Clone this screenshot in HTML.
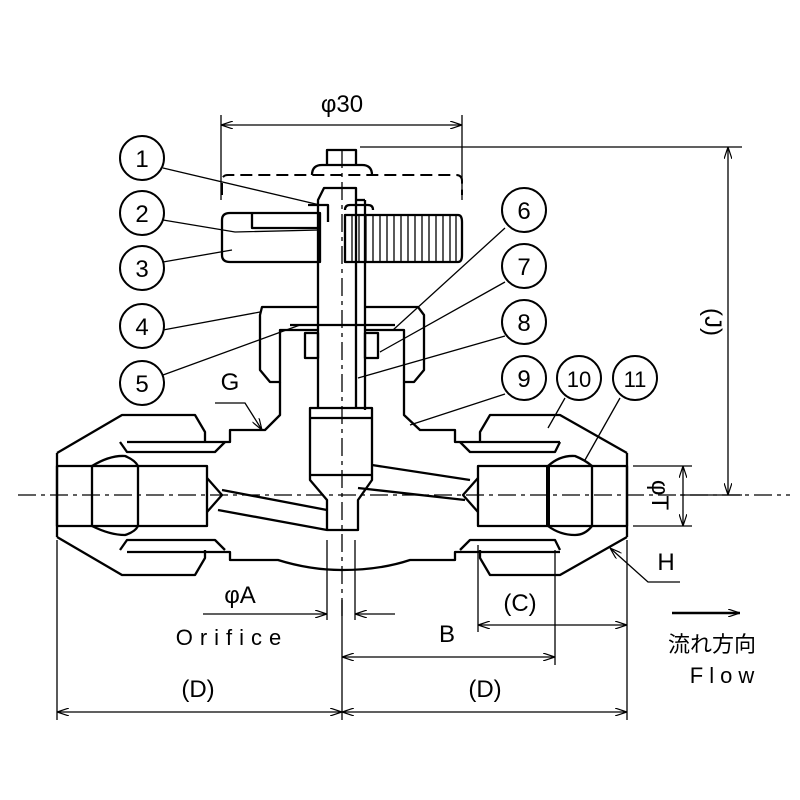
<!DOCTYPE html>
<html><head><meta charset="utf-8"><style>html,body{margin:0;padding:0;background:#fff}svg{display:block}</style></head>
<body>
<svg width="800" height="800" viewBox="0 0 800 800" xmlns="http://www.w3.org/2000/svg" font-family="Liberation Sans, Noto Sans CJK JP, sans-serif">
<defs>
<marker id="a" viewBox="0 0 12 8" refX="12" refY="4" markerWidth="12" markerHeight="8" orient="auto-start-reverse" markerUnits="userSpaceOnUse"><path d="M0,0 L12,4 L0,8" fill="none" stroke="#000" stroke-width="1.2"/></marker>
</defs>
<g fill="none" stroke="#000" stroke-width="1.3">
<!-- center lines -->
<line x1="18" y1="495" x2="790" y2="495" stroke-dasharray="18,5,4,5"/>
<line x1="342" y1="150" x2="342" y2="620" stroke-dasharray="18,5,4,5"/>
<!-- phi30 dim -->
<line x1="221" y1="115" x2="221" y2="200"/><line x1="462" y1="115" x2="462" y2="200"/>
<line x1="221" y1="125" x2="462" y2="125" marker-start="url(#a)" marker-end="url(#a)"/>
<!-- dashed handle -->
<path d="M222,195 V181 Q222,175 228,175 H456 Q462,175 462,181 V195" stroke-dasharray="12,6" stroke-width="2"/>
<!-- J dim -->
<line x1="360" y1="147" x2="742" y2="147"/><line x1="680" y1="495" x2="742" y2="495"/>
<line x1="728" y1="147" x2="728" y2="495" marker-start="url(#a)" marker-end="url(#a)"/>
<!-- phiT dim -->
<line x1="633" y1="466" x2="692" y2="466"/><line x1="633" y1="526" x2="692" y2="526"/>
<line x1="683" y1="466" x2="683" y2="526" marker-start="url(#a)" marker-end="url(#a)"/>
<!-- lower dims -->
<line x1="57" y1="540" x2="57" y2="720"/><line x1="627" y1="540" x2="627" y2="720"/>
<line x1="342" y1="600" x2="342" y2="720"/>
<line x1="327" y1="540" x2="327" y2="620"/><line x1="355" y1="540" x2="355" y2="620"/>
<line x1="478" y1="545" x2="478" y2="632"/><line x1="555" y1="550" x2="555" y2="665"/>
<line x1="57" y1="712" x2="342" y2="712" marker-start="url(#a)" marker-end="url(#a)"/>
<line x1="342" y1="712" x2="627" y2="712" marker-start="url(#a)" marker-end="url(#a)"/>
<line x1="342" y1="657" x2="555" y2="657" marker-start="url(#a)" marker-end="url(#a)"/>
<line x1="478" y1="625" x2="627" y2="625" marker-start="url(#a)" marker-end="url(#a)"/>
<line x1="203" y1="614" x2="327" y2="614" marker-end="url(#a)"/>
<line x1="395" y1="614" x2="355" y2="614" marker-end="url(#a)"/>
<line x1="672" y1="613" x2="740" y2="613" stroke-width="2.5" marker-end="url(#a)"/>
<!-- leaders -->
<path d="M163,168 L320,205"/><path d="M163,220 L235,232 L320,230"/><path d="M163,262 L232,250"/><path d="M163,330 L260,312"/><path d="M163,375 L300,325"/>
<path d="M505,228 L393,330"/><path d="M505,282 L380,352"/><path d="M505,336 L358,378"/><path d="M505,394 L410,425"/>
<path d="M565,398 L548,428"/><path d="M620,398 L585,460"/>
<path d="M215,403 H245 L262,430" marker-end="url(#a)"/>
<path d="M680,582 H648 L610,548" marker-end="url(#a)"/>
</g>
<g fill="none" stroke="#000" stroke-width="2.3" stroke-linejoin="round">
<!-- top nut -->
<path d="M327,165 V150 H356 V165"/><path d="M312,175 Q312,165 322,165 H362 Q372,165 372,175"/>
<!-- stem -->
<path d="M318,408 V200 L324,188 H356 V408"/><line x1="356" y1="200" x2="365" y2="200"/><path d="M365,200 V410"/>
<!-- handle -->
<path d="M222,220 Q222,213 230,213 H320 V262 H230 Q222,262 222,255 Z"/>
<path d="M252,213 V228 H320"/><path d="M308,205 H328 V222"/>
<path d="M345,215 H458 Q462,215 462,222 V255 Q462,262 458,262 H345 Z"/>
<path d="M345,210 Q345,205 350,205 H368 Q373,205 373,210"/>
<!-- bonnet -->
<path d="M318,307 H262 L260,315 V370 L270,382 H280 V330 H318"/>
<path d="M365,307 H418 L424,315 V370 L414,382 H404 V330 H365"/>
<path d="M290,325 H395"/><rect x="305" y="333" width="13" height="25"/><rect x="365" y="333" width="13" height="25"/>
<!-- body neck -->
<path d="M280,382 V415 L265,430 H230 V442 H127"/>
<path d="M404,382 V415 L420,430 H455 V442 H560"/>
<!-- plug -->
<path d="M310,408 H372 V480 L358,500 V530 H327 V500 L310,480 Z"/>
<line x1="310" y1="418" x2="372" y2="418"/><line x1="310" y1="475" x2="372" y2="475"/>
<!-- passages -->
<path d="M222,490 L327,510"/><path d="M218,510 L327,530"/><path d="M372,465 L470,480"/><path d="M358,488 L465,500"/>
<!-- body bottom -->
<path d="M127,552 H230 V560 H278 Q310,570 342,570 Q380,570 410,560 H455 V552 H560"/>
<!-- left nut -->
<path d="M57,453 L122,415 H195 L205,432 V443"/><path d="M57,537 L122,575 H195 L205,558 V550"/>
<line x1="57" y1="453" x2="57" y2="537"/>
<path d="M120,442 L127,452 H215 L225,442"/><path d="M120,550 L127,540 H215 L225,550"/>
<rect x="57" y="466" width="150" height="60"/>
<path d="M92,466 Q110,455 125,456 Q135,460 138,466 V526 Q135,532 125,535 Q110,535 92,526 Z"/>
<path d="M207,478 L222,495 L207,512"/>
<!-- right nut -->
<path d="M627,453 L560,415 H490 L480,432 V443"/><path d="M627,537 L560,575 H490 L480,558 V550"/>
<line x1="627" y1="453" x2="627" y2="537"/>
<path d="M560,442 L555,452 H470 L460,442"/><path d="M560,550 L555,540 H470 L460,550"/>
<rect x="478" y="466" width="149" height="60"/>
<path d="M548,466 Q560,455 575,456 Q585,460 592,466 V526 Q585,535 575,535 Q560,535 548,526 Z"/>
<line x1="548" y1="466" x2="548" y2="526" stroke-width="4"/>
<path d="M478,478 L463,495 L478,512"/>
</g>
<!-- knurl -->
<g stroke="#000" stroke-width="1.3">
<path d="M352,215V262M359,215V262M366,215V262M373,215V262M380,215V262M387,215V262M394,215V262M401,215V262M408,215V262M415,215V262M422,215V262M429,215V262M436,215V262M443,215V262M450,215V262M456,215V262"/>
</g>
<!-- circles -->
<g fill="#fff" stroke="#000" stroke-width="2">
<circle cx="142" cy="158" r="22"/><circle cx="142" cy="213" r="22"/><circle cx="142" cy="268" r="22"/><circle cx="142" cy="326" r="22"/><circle cx="142" cy="383" r="22"/>
<circle cx="524" cy="210" r="22"/><circle cx="524" cy="266" r="22"/><circle cx="524" cy="322" r="22"/><circle cx="524" cy="378" r="22"/><circle cx="579" cy="378" r="22"/><circle cx="635" cy="378" r="22"/>
</g>
<g font-size="24" text-anchor="middle" fill="#000">
<text x="142" y="167">1</text><text x="142" y="222">2</text><text x="142" y="277">3</text><text x="142" y="335">4</text><text x="142" y="392">5</text>
<text x="524" y="219">6</text><text x="524" y="275">7</text><text x="524" y="331">8</text><text x="524" y="387">9</text><text x="579" y="387" font-size="22">10</text><text x="635" y="387" font-size="22">11</text>
<text x="342" y="112">φ30</text>
<text x="230" y="390">G</text>
<text x="240" y="603">φA</text>
<text x="232" y="645" font-size="22" letter-spacing="7">Orifice</text>
<text x="447" y="642">B</text>
<text x="520" y="611">(C)</text>
<text x="198" y="697">(D)</text><text x="485" y="697">(D)</text>
<text x="666" y="570">H</text>
<text x="712" y="652" font-size="22">流れ方向</text>
<text x="725" y="683" font-size="22" letter-spacing="6">Flow</text>
<text transform="translate(705,322) rotate(90)">(J)</text>
<text transform="translate(652,495) rotate(90)">φT</text>
</g>
</svg>
</body></html>
